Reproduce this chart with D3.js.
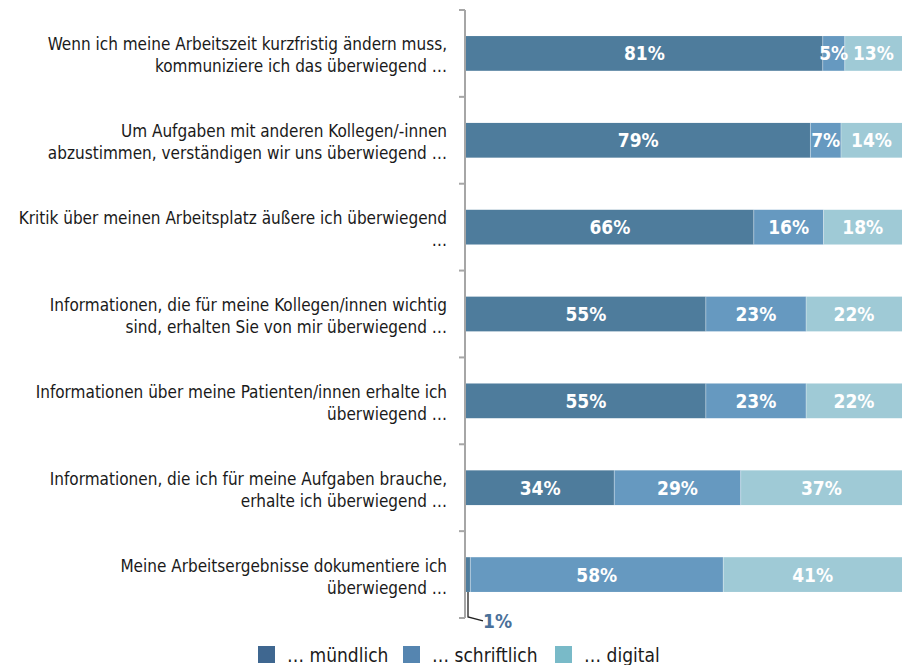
<!DOCTYPE html>
<html>
<head>
<meta charset="utf-8">
<script src="https://cdn.jsdelivr.net/npm/d3@7/dist/d3.min.js"></script>
<style>
    body { margin: 0; background: #fff; }
    svg text { font-family: "Liberation Sans Narrow", "DejaVu Sans Condensed", sans-serif; }
</style>
</head>
<body>
<svg id="chart" width="907" height="665"></svg>
<script>
    // questions (two lines each, as in the original layout)
    var questions = [
        ["Wenn ich meine Arbeitszeit kurzfristig ändern muss,", "kommuniziere ich das überwiegend …"],
        ["Um Aufgaben mit anderen Kollegen/-innen", "abzustimmen, verständigen wir uns überwiegend …"],
        ["Kritik über meinen Arbeitsplatz äußere ich überwiegend", "…"],
        ["Informationen, die für meine Kollegen/innen wichtig", "sind, erhalten Sie von mir überwiegend …"],
        ["Informationen über meine Patienten/innen erhalte ich", "überwiegend …"],
        ["Informationen, die ich für meine Aufgaben brauche,", "erhalte ich überwiegend …"],
        ["Meine Arbeitsergebnisse dokumentiere ich", "überwiegend …"]
    ];
    var muendlich   = [81, 79, 66, 55, 55, 34, 1];
    var schriftlich = [5, 7, 16, 23, 23, 29, 58];
    var digital     = [13, 14, 18, 22, 22, 37, 41];

    var seriesKeys  = ["muendlich", "schriftlich", "digital"];
    var legendNames = ["… mündlich", "… schriftlich", "… digital"];
    var barColors    = ["#4e7c9c", "#6699c0", "#9fcad6"];
    var legendColors = ["#3f6790", "#5585b0", "#79bac8"];

    var rows = questions.map(function(q, i) {
        return { id: i, lines: q, muendlich: muendlich[i], schriftlich: schriftlich[i], digital: digital[i] };
    });

    var svg = d3.select("#chart");
    var x0 = 466, x1 = 902;

    var y = d3.scaleBand()
        .domain(rows.map(function(d) { return d.id; }))
        .range([10, 618])
        .paddingInner(0.6)
        .paddingOuter(0.3);

    var x = d3.scaleLinear().domain([0, 1]).range([x0, x1]);

    var stack = d3.stack().keys(seriesKeys).offset(d3.stackOffsetExpand);
    var stacked = stack(rows);

    // axis line + ticks at band boundaries
    var gap = (y.step() - y.bandwidth()) / 2;
    var tickPos = rows.map(function(d) { return y(d.id) - gap; });
    tickPos.push(y(rows[rows.length - 1].id) + y.bandwidth() + gap);

    var axis = svg.append("g");
    axis.append("line")
        .attr("x1", x0 - 1).attr("x2", x0 - 1)
        .attr("y1", tickPos[0]).attr("y2", tickPos[tickPos.length - 1])
        .attr("stroke", "#a6a6a6").attr("stroke-width", 2);
    axis.selectAll(".tick").data(tickPos).enter().append("line")
        .attr("x1", x0 - 7).attr("x2", x0 - 1)
        .attr("y1", function(d) { return d; }).attr("y2", function(d) { return d; })
        .attr("stroke", "#a6a6a6").attr("stroke-width", 2);

    // bars
    var layer = svg.selectAll(".layer").data(stacked).enter().append("g")
        .attr("fill", function(d, i) { return barColors[i]; });

    layer.selectAll("rect").data(function(d) { return d; }).enter().append("rect")
        .attr("x", function(d) { return x(d[0]); })
        .attr("width", function(d) { return x(d[1]) - x(d[0]); })
        .attr("y", function(d) { return y(d.data.id); })
        .attr("height", y.bandwidth());

    // separators between segments
    layer.filter(function(d, i) { return i > 0; })
        .selectAll("line").data(function(d) { return d; }).enter().append("line")
        .attr("x1", function(d) { return x(d[0]); }).attr("x2", function(d) { return x(d[0]); })
        .attr("y1", function(d) { return y(d.data.id); })
        .attr("y2", function(d) { return y(d.data.id) + y.bandwidth(); })
        .attr("stroke", "#ffffff").attr("stroke-opacity", 0.35).attr("stroke-width", 1);

    // value labels inside
    stacked.forEach(function(s) {
        svg.append("g").selectAll("text").data(s.filter(function(d) { return d.data[s.key] >= 3; }))
            .enter().append("text")
            .attr("x", function(d) { return (x(d[0]) + x(d[1])) / 2; })
            .attr("y", function(d) { return y(d.data.id) + y.bandwidth() / 2 + 7; })
            .attr("text-anchor", "middle")
            .attr("fill", "#fff")
            .attr("font-weight", "bold")
            .attr("font-size", 19)
            .text(function(d) { return d.data[s.key] + "%"; });
    });

    // small segment with leader line
    var small = stacked[0].filter(function(d) { return d.data.muendlich < 3; });
    small.forEach(function(d) {
        var bx = x(d[0]) + 2, by = y(d.data.id) + y.bandwidth();
        svg.append("path")
            .attr("d", "M" + bx + "," + by + "V" + (by + 25) + "L" + (bx + 15) + "," + (by + 29))
            .attr("fill", "none").attr("stroke", "#222").attr("stroke-width", 1.3);
        svg.append("text")
            .attr("x", bx + 15).attr("y", by + 36)
            .attr("fill", "#4a7099").attr("font-weight", "bold").attr("font-size", 19)
            .text(d.data.muendlich + "%");
    });

    // question labels
    var lbl = svg.append("g").selectAll("text").data(rows).enter().append("text")
        .attr("text-anchor", "end")
        .attr("font-size", 17)
        .attr("fill", "#1a1a1a");
    lbl.selectAll("tspan").data(function(d) { return d.lines.map(function(l, i) { return { t: l, i: i, id: d.id }; }); })
        .enter().append("tspan")
        .attr("x", 447)
        .attr("y", function(d) { return y(d.id) + y.bandwidth() / 2 - 3 + d.i * 22; })
        .text(function(d) { return d.t; });

    // legend
    var legendX = [258, 403, 555];
    var leg = svg.append("g").selectAll("g").data(legendNames).enter().append("g")
        .attr("transform", function(d, i) { return "translate(" + legendX[i] + ",646)"; });
    leg.append("rect").attr("width", 17).attr("height", 17)
        .attr("fill", function(d, i) { return legendColors[i]; });
    leg.append("text").attr("x", 29).attr("y", 16)
        .attr("font-size", 19).attr("fill", "#1a1a1a")
        .text(function(d) { return d; });
</script>
</body>
</html>
